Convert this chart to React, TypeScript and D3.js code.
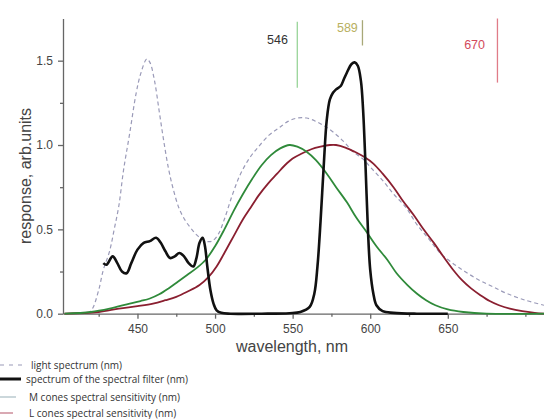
import React, { useEffect, useRef } from 'react';
import * as d3 from 'd3';

// wavelength (nm) / response pairs
const lightNm = [418, 421, 425, 428, 432, 435, 438, 441, 445, 449, 452, 456, 458, 461, 464, 467, 470, 473, 477, 481, 485, 489, 494, 498, 502, 506, 511, 516, 522, 528, 535, 541, 547, 553, 559, 565, 571, 577, 583, 589, 595, 601, 608, 615, 623, 630, 638, 645, 653, 661, 670, 679, 688, 700, 712];
const lightVal = [0, 0.03, 0.14, 0.26, 0.37, 0.5, 0.64, 0.85, 1.07, 1.3, 1.42, 1.51, 1.49, 1.38, 1.2, 1.02, 0.86, 0.74, 0.62, 0.55, 0.5, 0.46, 0.43, 0.43, 0.47, 0.56, 0.7, 0.82, 0.92, 0.99, 1.06, 1.1, 1.14, 1.16, 1.16, 1.14, 1.11, 1.07, 1.02, 0.96, 0.92, 0.86, 0.79, 0.71, 0.63, 0.53, 0.44, 0.36, 0.3, 0.25, 0.2, 0.16, 0.12, 0.08, 0.05];

const filterNm = [428, 430, 434, 437, 440, 443, 446, 450, 454, 458, 462, 465, 468, 471, 474, 477, 480, 483, 486, 488, 490, 492, 493.5, 495, 497, 499, 501, 504, 510, 530, 548, 555, 561, 564, 566, 568, 570, 572, 574, 576, 578, 581, 583, 585, 588, 590, 592, 594, 595.4, 597, 598.6, 600, 602, 604, 608, 615, 630, 650];
const filterVal = [0.3, 0.29, 0.34, 0.3, 0.25, 0.24, 0.3, 0.38, 0.42, 0.43, 0.45, 0.42, 0.37, 0.33, 0.34, 0.36, 0.34, 0.3, 0.28, 0.33, 0.42, 0.45, 0.4, 0.28, 0.14, 0.06, 0.02, 0.005, 0, 0, 0.003, 0.01, 0.04, 0.12, 0.28, 0.55, 0.87, 1.15, 1.27, 1.31, 1.33, 1.35, 1.39, 1.43, 1.48, 1.49, 1.47, 1.38, 1.21, 0.87, 0.48, 0.26, 0.12, 0.05, 0.015, 0.005, 0, 0];

const mNm = [403, 420, 432, 445, 452, 458, 464, 470, 476, 482, 488, 494, 500, 506, 512, 518, 524, 530, 536, 542, 548, 553, 559, 565, 572, 578, 585, 591, 598, 604, 611, 617, 624, 630, 636, 642, 650, 660, 675, 712];
const mVal = [0, 0.01, 0.03, 0.06, 0.075, 0.09, 0.115, 0.15, 0.19, 0.23, 0.27, 0.32, 0.4, 0.5, 0.61, 0.71, 0.8, 0.88, 0.94, 0.98, 1.0, 0.99, 0.96, 0.91, 0.83, 0.75, 0.66, 0.57, 0.48, 0.4, 0.32, 0.24, 0.17, 0.12, 0.08, 0.05, 0.025, 0.01, 0, 0];

const lNm = [403, 425, 438, 450, 460, 468, 475, 482, 490, 496, 501, 506, 512, 518, 523, 528, 534, 540, 545, 550, 556, 562, 568, 574, 578, 584, 590, 596, 602, 608, 615, 621, 628, 634, 641, 647, 653, 659, 665, 671, 677, 683, 690, 698, 706, 712];
const lVal = [0, 0.01, 0.03, 0.045, 0.06, 0.08, 0.1, 0.13, 0.17, 0.22, 0.28, 0.36, 0.46, 0.56, 0.63, 0.7, 0.77, 0.83, 0.88, 0.92, 0.95, 0.975, 0.99, 1.0, 1.0, 0.985, 0.96, 0.93, 0.89, 0.83, 0.75, 0.67, 0.585, 0.505, 0.42, 0.34, 0.265, 0.2, 0.15, 0.11, 0.075, 0.05, 0.03, 0.015, 0.005, 0];

const xMajor = [450, 500, 550, 600, 650];
const xMinor = [425, 475, 525, 575, 625, 675, 700];
const yMajor = [0, 0.5, 1.0, 1.5];
const yMinor = [0.25, 0.75, 1.25];

// the vertical marker lines at the top
const markerNm = [553, 595, 682];
const markerTop = [1.73, 1.74, 1.75];
const markerBottom = [1.34, 1.59, 1.37];
const markerLabels = ['546', '589', '670'];
const markerLabelNm = [547, 592, 674];
const markerLabelY = [1.6, 1.67, 1.57];
const markerColors = ['#98d498', '#a8a878', '#e07c88'];
const markerTextColors = ['#333', '#b8b060', '#d24a5c'];

const legendLabels = [
  'light spectrum (nm)',
  'spectrum of the spectral filter  (nm)',
  'M cones spectral sensitivity (nm)',
  'L cones spectral sensitivity (nm)',
];

const W = 544;
const H = 419;

const App = () => {
  const svgRef = useRef(null);

  useEffect(() => {
    const svg = d3.select(svgRef.current);
    svg.selectAll('*').remove();

    const x = d3.scaleLinear().domain([402, 712]).range([63, 544]);
    const y = d3.scaleLinear().domain([0, 1.75]).range([313.7, 18.5]);

    const mk = (xs, ys) => xs.map((v, i) => [v, ys[i]]);
    const gen = d3.line().x(d => x(d[0])).y(d => y(d[1])).curve(d3.curveCatmullRom.alpha(0.5));

    const axisColor = '#666';
    const font = 'Arial, "Liberation Sans", sans-serif';

    // x axis
    const gx = svg.append('g').attr('transform', `translate(0, ${y(0)})`);
    gx.call(d3.axisBottom(x).tickValues(xMajor).tickSize(5).tickSizeOuter(0).tickPadding(6));
    gx.append('g').call(d3.axisBottom(x).tickValues(xMinor).tickSize(3).tickSizeOuter(0).tickFormat(() => ''))
      .select('.domain').remove();
    gx.selectAll('path, line').attr('stroke', axisColor).attr('stroke-width', 1.3);
    gx.selectAll('text').attr('fill', '#444').style('font-family', font).style('font-size', '12px');

    // y axis
    const gy = svg.append('g').attr('transform', `translate(${x(402)}, 0)`);
    gy.call(d3.axisLeft(y).tickValues(yMajor).tickSize(5).tickSizeOuter(0).tickPadding(5).tickFormat(d3.format('.1f')));
    gy.append('g').call(d3.axisLeft(y).tickValues(yMinor).tickSize(3).tickSizeOuter(0).tickFormat(() => ''))
      .select('.domain').remove();
    gy.selectAll('path, line').attr('stroke', axisColor).attr('stroke-width', 1.3);
    gy.selectAll('text').attr('fill', '#444').style('font-family', font).style('font-size', '12px');

    // axis titles
    svg.append('text')
      .attr('x', 292).attr('y', 352)
      .attr('text-anchor', 'middle')
      .attr('fill', '#444')
      .style('font-family', font).style('font-size', '16px')
      .text('wavelength, nm');
    svg.append('text')
      .attr('transform', 'translate(31, 176) rotate(-90)')
      .attr('text-anchor', 'middle')
      .attr('fill', '#444')
      .style('font-family', font).style('font-size', '16px')
      .text('response, arb.units');

    // curves
    svg.append('path').datum(mk(lightNm, lightVal))
      .attr('fill', 'none').attr('stroke', '#9a9ab8').attr('stroke-width', 1.2)
      .attr('stroke-dasharray', '4,3').attr('d', gen);
    svg.append('path').datum(mk(lNm, lVal))
      .attr('fill', 'none').attr('stroke', '#8a1f30').attr('stroke-width', 1.8).attr('d', gen);
    svg.append('path').datum(mk(mNm, mVal))
      .attr('fill', 'none').attr('stroke', '#2f8a3a').attr('stroke-width', 1.8).attr('d', gen);
    svg.append('path').datum(mk(filterNm, filterVal))
      .attr('fill', 'none').attr('stroke', '#111').attr('stroke-width', 2.6)
      .attr('stroke-linejoin', 'round').attr('d', gen);

    // markers
    markerNm.forEach((nm, i) => {
      svg.append('line')
        .attr('x1', x(nm)).attr('x2', x(nm))
        .attr('y1', y(markerTop[i])).attr('y2', y(markerBottom[i]))
        .attr('stroke', markerColors[i]).attr('stroke-width', 1.3);
      svg.append('text')
        .attr('x', x(markerLabelNm[i])).attr('y', y(markerLabelY[i]))
        .attr('text-anchor', 'end')
        .attr('fill', markerTextColors[i])
        .style('font-family', font).style('font-size', '12.5px')
        .text(markerLabels[i]);
    });

    // legend
    const lg = svg.append('g');
    const rowY = [365, 379, 397, 413];
    const textX = [31, 26, 29, 29];
    const symLen = [25, 21, 16, 13];
    const symColor = ['#9a9ab8', '#111', '#a8bcc4', '#c07080'];
    const symWidth = [1.2, 3, 1.2, 1.2];
    legendLabels.forEach((label, i) => {
      lg.append('line')
        .attr('x1', 0).attr('x2', symLen[i])
        .attr('y1', rowY[i]).attr('y2', rowY[i])
        .attr('stroke', symColor[i]).attr('stroke-width', symWidth[i])
        .attr('stroke-dasharray', i === 0 ? '4,5' : null);
      lg.append('text')
        .attr('x', textX[i]).attr('y', rowY[i] + 3.5)
        .attr('fill', '#333')
        .style('font-family', '"Open Sans", sans-serif').style('font-size', '10px')
        .text(label);
    });
  }, []);

  return (
    <svg ref={svgRef} width={W} height={H}
      style={{ position: 'absolute', left: 0, top: 0, background: '#fff' }} />
  );
};

export default App;
